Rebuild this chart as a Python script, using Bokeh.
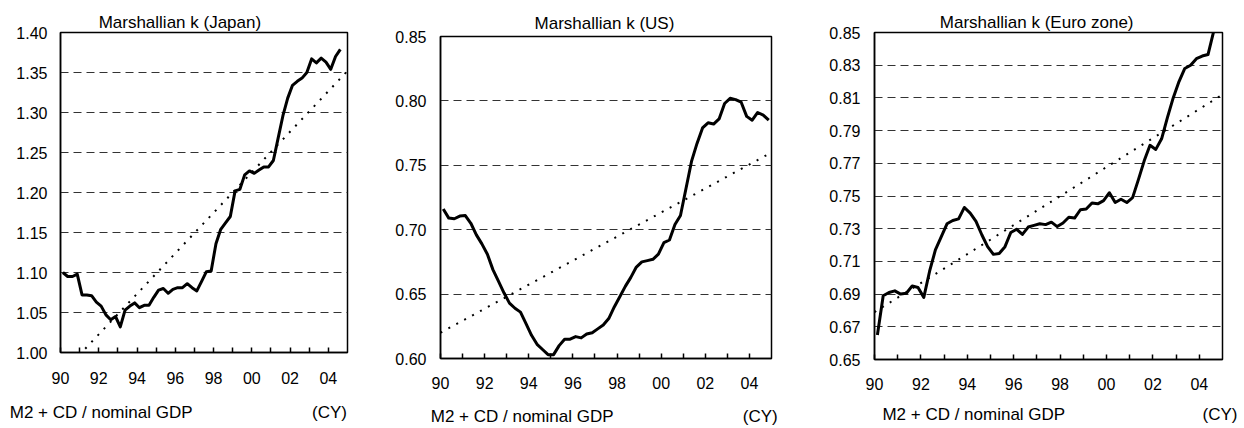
from bokeh.plotting import figure
from bokeh.models import Range1d, FixedTicker, NumeralTickFormatter, LinearAxis
from bokeh.layouts import row
from bokeh.embed import file_html
from bokeh.resources import INLINE

FONT = "Liberation Sans"
FS = "16px"
FS_NOTE = "17px"

# ---------------- data ----------------
start_year = 1990          # first quarter = 1990Q1, quarterly observations
x_major = [1990, 1992, 1994, 1996, 1998, 2000, 2002, 2004]
x_labels = ["90", "92", "94", "96", "98", "00", "02", "04"]
x_minor = [1991, 1993, 1995, 1997, 1999, 2001, 2003]
trend_years = [1990.0, 2005.0]

japan_k = [1.100, 1.095, 1.095, 1.098, 1.072, 1.072, 1.071, 1.063, 1.058, 1.047,
           1.041, 1.045, 1.032, 1.053, 1.058, 1.062, 1.056, 1.059, 1.059, 1.069,
           1.078, 1.080, 1.074, 1.079, 1.081, 1.081, 1.086, 1.081, 1.077, 1.089,
           1.101, 1.102, 1.136, 1.154, 1.162, 1.170, 1.202, 1.204, 1.222, 1.227,
           1.224, 1.228, 1.232, 1.232, 1.240, 1.268, 1.296, 1.318, 1.334, 1.339,
           1.343, 1.350, 1.367, 1.362, 1.368, 1.363, 1.354, 1.370, 1.379]
japan_trend = [0.972, 1.352]
japan_yticks = [1.00, 1.05, 1.10, 1.15, 1.20, 1.25, 1.30, 1.35, 1.40]

us_k = [0.716, 0.709, 0.7085, 0.7106, 0.711, 0.705, 0.696, 0.689, 0.681, 0.669,
        0.660, 0.651, 0.643, 0.639, 0.636, 0.627, 0.618, 0.611, 0.607, 0.603,
        0.603, 0.610, 0.615, 0.615, 0.617, 0.616, 0.619, 0.620, 0.623, 0.626,
        0.631, 0.640, 0.648, 0.656, 0.663, 0.671, 0.675, 0.676, 0.677, 0.681,
        0.690, 0.692, 0.704, 0.711, 0.732, 0.753, 0.767, 0.779, 0.783, 0.782,
        0.786, 0.798, 0.802, 0.801, 0.799, 0.788, 0.785, 0.791, 0.789, 0.785]
us_trend = [0.620, 0.760]
us_yticks = [0.60, 0.65, 0.70, 0.75, 0.80, 0.85]

euro_k = [0.665, 0.689, 0.691, 0.692, 0.690, 0.6905, 0.695, 0.694, 0.688, 0.704,
          0.717, 0.725, 0.733, 0.735, 0.736, 0.743, 0.7395, 0.7345, 0.7263, 0.719,
          0.7143, 0.7148, 0.719, 0.7277, 0.7297, 0.7265, 0.731, 0.732, 0.733, 0.7325,
          0.734, 0.7313, 0.7335, 0.737, 0.7365, 0.7416, 0.742, 0.7457, 0.7452, 0.7472,
          0.752, 0.746, 0.748, 0.746, 0.749, 0.760, 0.7715, 0.781, 0.7785, 0.785,
          0.798, 0.810, 0.820, 0.828, 0.830, 0.834, 0.8356, 0.8365, 0.851]
euro_trend = [0.679, 0.812]
euro_yticks = [0.65, 0.67, 0.69, 0.71, 0.73, 0.75, 0.77, 0.79, 0.81, 0.83, 0.85]

titles = ["Marshallian k (Japan)", "Marshallian k (US)", "Marshallian k (Euro zone)"]
footnote = "M2 + CD / nominal GDP"
unit_note = "(CY)"


def quarters(n):
    return [start_year + (i + 0.5) / 4 for i in range(n)]


def text_axis(positions, texts, standoff):
    """An axis without line/ticks used only to place text in the side panels."""
    ax = LinearAxis(ticker=FixedTicker(ticks=positions, minor_ticks=[]),
                    major_label_overrides={x: t for x, t in zip(positions, texts)},
                    axis_line_color=None, major_tick_line_color=None,
                    minor_tick_line_color=None,
                    major_tick_in=0, major_tick_out=0,
                    minor_tick_in=0, minor_tick_out=0,
                    major_label_standoff=standoff,
                    major_label_text_font=FONT,
                    major_label_text_font_size=FS_NOTE,
                    major_label_text_color="black")
    return ax


def make_panel(title, values, trend, yticks, width, height, bl, br, bt, bb,
               title_x, note_x, xstand, ystand, title_stand, note_stand):
    p = figure(width=width, height=height, output_backend="svg",
               toolbar_location=None, tools="",
               x_range=Range1d(trend_years[0], trend_years[1]),
               y_range=Range1d(yticks[0], yticks[-1]),
               min_border_left=bl, min_border_right=br,
               min_border_top=bt, min_border_bottom=bb)
    p.frame_align = False
    p.background_fill_color = "white"
    p.border_fill_color = "white"
    p.outline_line_color = "black"
    p.outline_line_width = 1.5

    # grid
    p.xgrid.grid_line_color = None
    p.ygrid.grid_line_color = "#333333"
    p.ygrid.grid_line_dash = "8 5"
    p.ygrid.grid_line_width = 1
    p.ygrid.ticker = FixedTicker(ticks=yticks)

    # x axis
    xa = p.xaxis[0]
    xa.ticker = FixedTicker(ticks=x_major, minor_ticks=x_minor)
    xa.major_label_overrides = {yr: lab for yr, lab in zip(x_major, x_labels)}
    xa.major_tick_in = 5
    xa.major_tick_out = 0
    xa.minor_tick_in = 5
    xa.minor_tick_out = 0
    xa.major_tick_line_color = "black"
    xa.minor_tick_line_color = "black"
    xa.major_tick_line_width = 1.5
    xa.minor_tick_line_width = 1.5
    xa.axis_line_color = "black"
    xa.axis_line_width = 1.5
    xa.major_label_text_font = FONT
    xa.major_label_text_font_size = FS
    xa.major_label_text_color = "black"
    xa.major_label_standoff = xstand

    # y axis
    ya = p.yaxis[0]
    ya.ticker = FixedTicker(ticks=yticks)
    ya.formatter = NumeralTickFormatter(format="0.00")
    ya.major_tick_in = 0
    ya.major_tick_out = 0
    ya.minor_tick_line_color = None
    ya.axis_line_color = "black"
    ya.axis_line_width = 1.5
    ya.major_label_text_font = FONT
    ya.major_label_text_font_size = FS
    ya.major_label_text_color = "black"
    ya.major_label_standoff = ystand

    # data
    p.line(trend_years, trend, line_color="black", line_width=2,
           line_dash="2 7")
    p.line(quarters(len(values)), values, line_color="black", line_width=3,
           line_join="round")

    # texts: title above, footnote + unit below
    p.add_layout(text_axis([title_x], [title], title_stand), "above")
    p.add_layout(text_axis(note_x, [footnote, unit_note], note_stand), "below")
    return p


H = 428
p1 = make_panel(titles[0], japan_k, japan_trend, japan_yticks,
                392, H, 60, 45, 32, 76,
                1996.24, [1992.125, 2004.06], 19, 13, 1, 16)
p2 = make_panel(titles[1], us_k, us_trend, us_yticks,
                428, H, 47, 49, 36, 70,
                1997.43, [1993.70, 2004.49], 18, 14, 4, 15)
p3 = make_panel(titles[2], euro_k, euro_trend, euro_yticks,
                424, H, 54, 22, 32, 69,
                1996.99, [1994.28, 2004.89], 18, 14, 1, 12)

layout = row(p1, p2, p3)
open("out.html", "w").write(file_html(layout, INLINE))
